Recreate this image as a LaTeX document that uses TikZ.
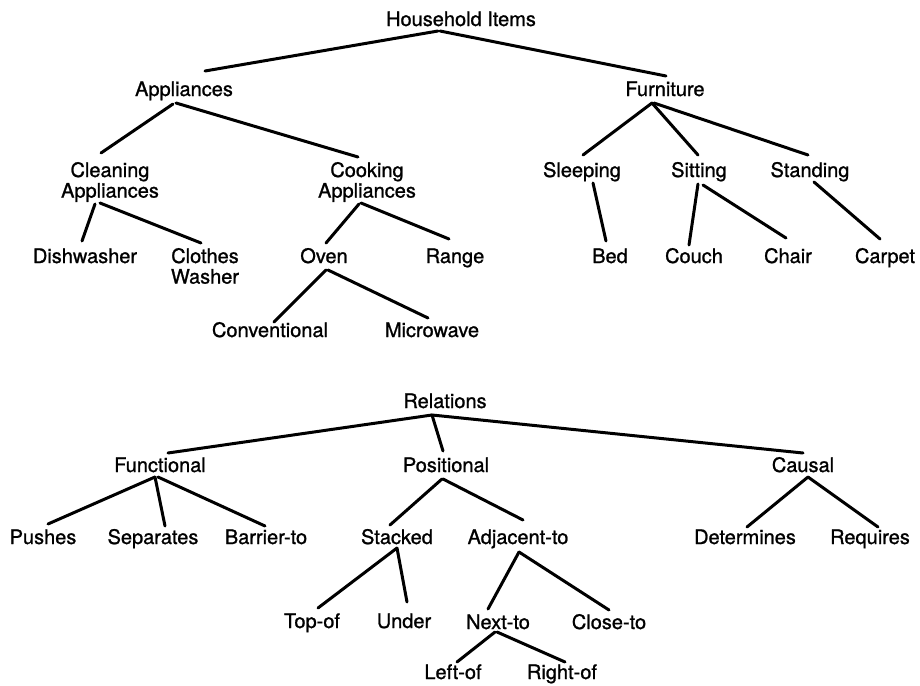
\documentclass[tikz,border=0pt]{standalone}
\usepackage{fontspec}
\setmainfont{TeX Gyre Heros}
% slightly heavier upright face for the labels
\newfontfamily\labelfont{TeX Gyre Heros}[FakeBold=1.1]
\usetikzlibrary{calc}

% two-line label, baseline on the first line
\newcommand{\twoline}[2]{\begin{tabular}[t]{@{}c@{}}#1\\#2\end{tabular}}

\tikzset{
  item/.style={inner sep=0pt, anchor=base, font=\labelfont\fontsize{10pt}{10pt}\selectfont},
  branch/.style={line width=1.5pt, line cap=round, line join=round}
}

\begin{document}
\begin{tikzpicture}[x=0.5pt, y=-0.5pt]
\useasboundingbox (0,0) rectangle (920,685);

% ---------- Household items tree ----------
\node[item] (hh)      at (461,26)  {Household Items};
\node[item] (app)     at (184,96)  {Appliances};
\node[item] (fur)     at (665,96)  {Furniture};
\node[item] (clean)   at (110,177) {\twoline{Cleaning}{Appliances}};
\node[item] (cook)    at (367,177) {\twoline{Cooking}{Appliances}};
\node[item] (sleep)   at (582,177) {Sleeping};
\node[item] (sit)     at (699,177) {Sitting};
\node[item] (stand)   at (810,177) {Standing};
\node[item] (dish)    at (85,263)  {Dishwasher};
\node[item] (clothes) at (205,263) {\twoline{Clothes}{Washer}};
\node[item] (oven)    at (324,263) {Oven};
\node[item] (range)   at (455,263) {Range};
\node[item] (bed)     at (610,263) {Bed};
\node[item] (couch)   at (694,263) {Couch};
\node[item] (chair)   at (788,263) {Chair};
\node[item] (carpet)  at (885,263) {Carpet};
\node[item] (conv)    at (270,337) {Conventional};
\node[item] (micro)   at (432,337) {Microwave};

\draw[branch] ($(hh.base)+(-23,5)$) -- ($(app.base)+(21,-25)$);
\draw[branch] ($(hh.base)+(-21,5)$) -- ($(fur.base)+(1,-20)$);
\draw[branch] ($(app.base)+(-11,8)$) -- ($(clean.base)+(-9,-24)$);
\draw[branch] ($(app.base)+(-8,7)$) -- ($(cook.base)+(-9,-20)$);
\draw[branch] ($(clean.base)+(-15,27)$) -- ($(dish.base)+(-3,-22)$);
\draw[branch] ($(clean.base)+(-10,26)$) -- ($(clothes.base)+(-4,-20)$);
\draw[branch] ($(cook.base)+(-8,27)$) -- ($(oven.base)+(2,-20)$);
\draw[branch] ($(cook.base)+(-6,26)$) -- ($(range.base)+(-6,-24)$);
\draw[branch] ($(oven.base)+(2,7)$) -- ($(conv.base)+(4,-15)$);
\draw[branch] ($(oven.base)+(4,7)$) -- ($(micro.base)+(-4,-19)$);
\draw[branch] ($(fur.base)+(-13,7)$) -- ($(sleep.base)+(1,-22)$);
\draw[branch] ($(fur.base)+(-13,7)$) -- ($(sit.base)+(-1,-22)$);
\draw[branch] ($(fur.base)+(-11,7)$) -- ($(stand.base)+(-2,-22)$);
\draw[branch] ($(sleep.base)+(11,6)$) -- ($(bed.base)+(-4,-22)$);
\draw[branch] ($(sit.base)+(-1,7)$) -- ($(couch.base)+(-5,-18)$);
\draw[branch] ($(sit.base)+(4,8)$) -- ($(chair.base)+(-2,-25)$);
\draw[branch] ($(stand.base)+(4,5)$) -- ($(carpet.base)+(-5,-24)$);

% ---------- Relations tree ----------
\node[item] (rel)     at (445,408) {Relations};
\node[item] (func)    at (160,472) {Functional};
\node[item] (pos)     at (446,472) {Positional};
\node[item] (causal)  at (803,472) {Causal};
\node[item] (pushes)  at (43,544)  {Pushes};
\node[item] (sep)     at (153,544) {Separates};
\node[item] (barrier) at (266,544) {Barrier-to};
\node[item] (stacked) at (397,544) {Stacked};
\node[item] (adj)     at (518,544) {Adjacent-to};
\node[item] (det)     at (745,544) {Determines};
\node[item] (req)     at (870,544) {Requires};
\node[item] (topof)   at (312,628) {Top-of};
\node[item] (under)   at (404,628) {Under};
\node[item] (next)    at (498,629) {Next-to};
\node[item] (close)   at (609,629) {Close-to};
\node[item] (left)    at (453,679) {Left-of};
\node[item] (right)   at (562,679) {Right-of};

\draw[branch] ($(rel.base)+(-13,7)$) -- ($(func.base)+(8,-19)$);
\draw[branch] ($(rel.base)+(-13,7)$) -- ($(pos.base)+(-3,-21)$);
\draw[branch] ($(rel.base)+(-13,7)$) -- ($(causal.base)+(0,-19)$);
\draw[branch] ($(func.base)+(-5,5)$) -- ($(pushes.base)+(5,-20)$);
\draw[branch] ($(func.base)+(-5,5)$) -- ($(sep.base)+(12,-18)$);
\draw[branch] ($(func.base)+(-2,5)$) -- ($(barrier.base)+(-1,-18)$);
\draw[branch] ($(pos.base)+(-4,7)$) -- ($(stacked.base)+(-7,-19)$);
\draw[branch] ($(pos.base)+(-3,7)$) -- ($(adj.base)+(5,-24)$);
\draw[branch] ($(stacked.base)+(0,4)$) -- ($(topof.base)+(6,-20)$);
\draw[branch] ($(stacked.base)+(0,4)$) -- ($(under.base)+(3,-26)$);
\draw[branch] ($(adj.base)+(1,8)$) -- ($(next.base)+(-10,-20)$);
\draw[branch] ($(adj.base)+(1,8)$) -- ($(close.base)+(0,-19)$);
\draw[branch] ($(next.base)+(-3,3)$) -- ($(left.base)+(4,-17)$);
\draw[branch] ($(next.base)+(-1,3)$) -- ($(right.base)+(3,-17)$);
\draw[branch] ($(causal.base)+(5,5)$) -- ($(det.base)+(2,-17)$);
\draw[branch] ($(causal.base)+(5,5)$) -- ($(req.base)+(8,-17)$);
\end{tikzpicture}
\end{document}
